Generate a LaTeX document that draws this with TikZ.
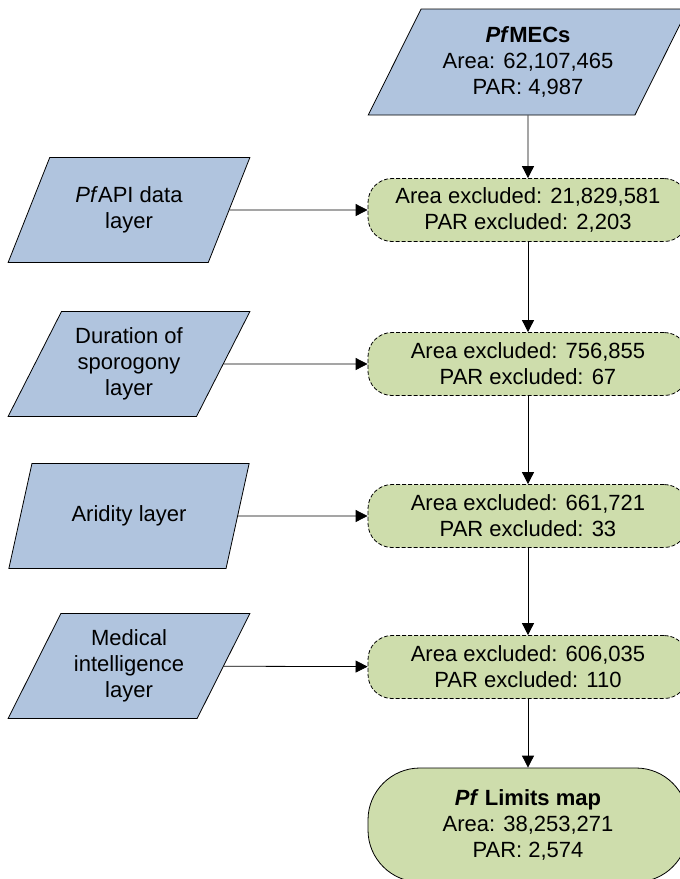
\documentclass[tikz,border=0pt]{standalone}
\usepackage{fontspec}
\setmainfont{Liberation Sans}
\usetikzlibrary{shapes.geometric,arrows.meta}
\definecolor{layerblue}{RGB}{176,196,222}
\definecolor{stepgreen}{RGB}{206,221,172}
\begin{document}
\begin{tikzpicture}[x=0.5pt,y=-0.5pt,>={Triangle[length=6pt,width=6pt]},
  font=\fontsize{11}{13}\selectfont,
  layer/.style={shape=trapezium,trapezium left angle=60,trapezium right angle=120,
    trapezium stretches=true,draw,fill=layerblue,minimum width=121pt,
    minimum height=52.5pt,align=center,inner sep=1pt},
  excl/.style={shape=rectangle,rounded corners=12pt,draw,dash pattern=on 2pt off 1pt,
    fill=stepgreen,minimum width=160pt,minimum height=31.5pt,align=center},
  result/.style={shape=rectangle,rounded corners=26pt,draw,fill=stepgreen,
    minimum width=160pt,minimum height=57pt,align=center}]
\clip (0,0) rectangle (680,879);
\node (mecs) at (528,62) [layer,minimum width=160pt,minimum height=53pt]
  {\textbf{\textit{Pf}MECs}\\Area: 62,107,465\\PAR: 4,987};
\node (pfapi) at (129,210) [layer]{\textit{Pf}API data\\layer};
\node (sporo) at (129,364) [layer]{Duration of\\sporogony\\layer};
\node (arid) at (129,516) [layer]{Aridity layer};
\node (medint) at (129,666) [layer]{Medical\\intelligence\\layer};
\node (exa) at (528,210) [excl]{Area excluded: 21,829,581\\PAR excluded: 2,203};
\node (exb) at (528,364) [excl]{Area excluded: 756,855\\PAR excluded: 67};
\node (exc) at (528,516) [excl]{Area excluded: 661,721\\PAR excluded: 33};
\node (exd) at (528,667) [excl]{Area excluded: 606,035\\PAR excluded: 110};
\node (limits) at (528,825) [result]
  {\textbf{\textit{Pf} Limits map}\\Area: 38,253,271\\PAR: 2,574};
\draw [->] (mecs) to (exa);
\draw [->] (pfapi) to (exa);
\draw [->] (exa) to (exb);
\draw [->] (sporo) to (exb);
\draw [->] (exb) to (exc);
\draw [->] (arid) to (exc);
\draw [->] (exc) to (exd);
\draw [->] (medint) to (exd);
\draw [->] (exd) to (limits);
\end{tikzpicture}
\end{document}
